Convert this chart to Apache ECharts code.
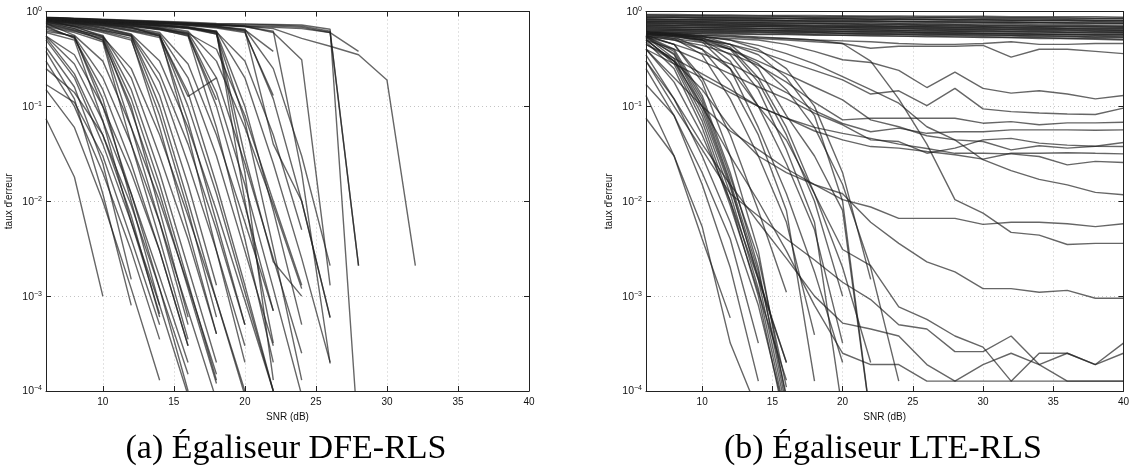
<!DOCTYPE html>
<html>
<head>
<meta charset="utf-8">
<script src="https://cdn.jsdelivr.net/npm/echarts@6/dist/echarts.min.js"></script>
<style>
  html, body { margin: 0; padding: 0; background: #fff; }
  #chart { width: 1132px; height: 469px; }
</style>
</head>
<body>
<div id="chart"></div>
<script>
// SNR grid of every simulated curve (dB)
const snr = [6, 8, 10, 12, 14, 16, 18, 20, 22, 24, 26, 28, 30, 32, 34, 36, 38, 40];
const xTickValues = [10, 15, 20, 25, 30, 35, 40];
const captions = ['(a) Égaliseur DFE-RLS', '(b) Égaliseur LTE-RLS'];
const xName = 'SNR (dB)';
const yName = "taux d'erreur";

// DFE-RLS error rates, one array per channel realisation (a curve stops when no error is counted)
const dfeCurves = [
  [0.074, 0.018, 0.001],
  [0.17, 0.11, 0.03, 0.004, 5e-4],
  [0.15, 0.06, 0.01, 0.0012, 1.3e-4],
  [0.3, 0.1, 0.02, 0.003, 3.5e-4],
  [0.42, 0.16, 0.025, 0.0015],
  [0.5, 0.2, 0.04, 0.006, 8e-4, 9e-5],
  [0.55, 0.28, 0.07, 0.012, 0.0016, 2e-4],
  [0.38, 0.12, 0.012, 8e-4],
  [0.55, 0.35, 0.1, 0.02, 0.003, 3e-4],
  [0.25, 0.14, 0.05, 0.009, 0.0012, 1.5e-4],
  [0.53, 0.22, 0.05, 0.007, 6e-4],
  [0.62, 0.55, 0.1, 0.012, 0.0012, 1e-4],
  [0.7, 0.52, 0.15, 0.025, 0.003, 3e-4],
  [0.6, 0.5, 0.07, 0.006, 6.5e-4],
  [0.65, 0.54, 0.2, 0.04, 0.006, 7e-4, 8e-5],
  [0.75, 0.56, 0.3, 0.06, 0.01, 0.0013, 1.5e-4],
  [0.68, 0.53, 0.12, 0.01, 8e-4],
  [0.72, 0.62, 0.52, 0.09, 0.012, 0.0012, 1.2e-4],
  [0.78, 0.66, 0.5, 0.06, 0.006, 5e-4],
  [0.75, 0.64, 0.55, 0.15, 0.02, 0.002, 2e-4],
  [0.8, 0.7, 0.54, 0.25, 0.05, 0.007, 9e-4, 1e-4],
  [0.74, 0.63, 0.5, 0.1, 0.008, 6e-4],
  [0.82, 0.68, 0.56, 0.2, 0.03, 0.004, 4e-4],
  [0.7, 0.6, 0.48, 0.04, 0.004, 3.5e-4],
  [0.76, 0.66, 0.53, 0.12, 0.015, 0.0014, 1.3e-4],
  [0.8, 0.72, 0.63, 0.55, 0.1, 0.01, 9e-4, 9e-5],
  [0.82, 0.74, 0.66, 0.56, 0.18, 0.025, 0.003, 3e-4],
  [0.78, 0.7, 0.62, 0.52, 0.06, 0.005, 4e-4],
  [0.84, 0.76, 0.68, 0.58, 0.3, 0.06, 0.008, 9e-4, 1e-4],
  [0.8, 0.73, 0.64, 0.55, 0.13, 0.015, 0.0013],
  [0.77, 0.7, 0.6, 0.5, 0.08, 0.008, 6e-4],
  [0.83, 0.75, 0.67, 0.57, 0.22, 0.04, 0.005, 5e-4],
  [0.82, 0.77, 0.72, 0.64, 0.56, 0.1, 0.012, 0.0011, 1e-4],
  [0.84, 0.79, 0.74, 0.67, 0.58, 0.2, 0.03, 0.003, 3e-4],
  [0.8, 0.75, 0.7, 0.62, 0.53, 0.07, 0.006, 5e-4],
  [0.85, 0.8, 0.75, 0.68, 0.6, 0.28, 0.05, 0.006, 7e-4],
  [0.81, 0.76, 0.71, 0.63, 0.55, 0.14, 0.015, 0.0013, 1e-4],
  [0.83, 0.78, 0.73, 0.66, 0.57, 0.05, 0.003, 2e-4],
  [0.8, 0.76, 0.72, 0.68, 0.55, 0.127, 0.2],
  [0.83, 0.8, 0.76, 0.72, 0.66, 0.57, 0.1, 0.009, 7e-4],
  [0.85, 0.81, 0.77, 0.73, 0.67, 0.6, 0.2, 0.025, 0.0025, 2.5e-4],
  [0.82, 0.79, 0.75, 0.71, 0.65, 0.55, 0.06, 0.004, 2e-4],
  [0.86, 0.82, 0.78, 0.74, 0.69, 0.62, 0.3, 0.06, 0.009, 0.0012],
  [0.84, 0.8, 0.76, 0.72, 0.67, 0.58, 0.14, 0.015, 0.0012, 9e-5],
  [0.83, 0.79, 0.75, 0.7, 0.64, 0.56, 0.117],
  [0.82, 0.78, 0.74, 0.7, 0.65, 0.59, 0.4, 0.08, 0.01, 0.0013],
  [0.84, 0.81, 0.78, 0.75, 0.71, 0.67, 0.6, 0.1, 0.008, 5e-4],
  [0.86, 0.83, 0.8, 0.77, 0.73, 0.69, 0.62, 0.2, 0.025, 0.0025, 2e-4],
  [0.83, 0.8, 0.77, 0.74, 0.7, 0.66, 0.58, 0.07, 0.0032, 1.3e-4],
  [0.85, 0.82, 0.79, 0.76, 0.72, 0.68, 0.61, 0.3, 0.05, 0.005],
  [0.84, 0.8, 0.77, 0.74, 0.71, 0.67, 0.6, 0.03, 0.0023, 0.001],
  [0.85, 0.81, 0.78, 0.75, 0.72, 0.68, 0.62, 0.01, 3.2e-4],
  [0.85, 0.83, 0.8, 0.78, 0.75, 0.72, 0.68, 0.62, 0.12, 0.01, 6e-4],
  [0.86, 0.84, 0.82, 0.79, 0.76, 0.73, 0.7, 0.64, 0.38],
  [0.84, 0.82, 0.79, 0.77, 0.74, 0.71, 0.67, 0.6, 0.13],
  [0.85, 0.83, 0.8, 0.78, 0.75, 0.72, 0.69, 0.63, 0.04, 0.01, 5.9e-4],
  [0.86, 0.84, 0.81, 0.79, 0.76, 0.73, 0.7, 0.65, 0.25, 0.03, 0.0021],
  [0.86, 0.84, 0.82, 0.8, 0.78, 0.75, 0.73, 0.7, 0.6, 0.31, 0.0013],
  [0.86, 0.84, 0.81, 0.79, 0.77, 0.75, 0.72, 0.69, 0.62, 0.02, 1.95e-4],
  [0.84, 0.81, 0.78, 0.75, 0.72, 0.68, 0.58, 0.02, 1.3e-4],
  [0.84, 0.82, 0.8, 0.78, 0.76, 0.74, 0.72, 0.7, 0.66, 0.52, 0.43, 0.35, 0.19, 0.0021],
  [0.87, 0.85, 0.83, 0.81, 0.79, 0.77, 0.75, 0.74, 0.73, 0.72, 0.65, 3e-5],
  [0.86, 0.84, 0.82, 0.8, 0.78, 0.76, 0.74, 0.73, 0.72, 0.7, 0.62, 0.0021],
  [0.85, 0.83, 0.81, 0.79, 0.77, 0.75, 0.73, 0.71, 0.7, 0.68, 0.6, 0.0021],
  [0.84, 0.82, 0.8, 0.78, 0.76, 0.74, 0.72, 0.7, 0.68, 0.66, 0.6, 0.38]
];

// LTE-RLS error rates, same SNR grid
const lteCurves = [
  // realisations that never converge
  [0.93, 0.93, 0.92, 0.92, 0.91, 0.91, 0.91, 0.9, 0.9, 0.9, 0.89, 0.89, 0.89, 0.88, 0.88, 0.88, 0.88, 0.87],
  [0.9, 0.9, 0.89, 0.89, 0.88, 0.88, 0.87, 0.87, 0.87, 0.86, 0.86, 0.86, 0.85, 0.85, 0.85, 0.84, 0.84, 0.84],
  [0.88, 0.87, 0.87, 0.86, 0.86, 0.85, 0.85, 0.85, 0.84, 0.84, 0.83, 0.83, 0.83, 0.82, 0.82, 0.82, 0.81, 0.81],
  [0.86, 0.86, 0.85, 0.85, 0.84, 0.84, 0.83, 0.83, 0.82, 0.82, 0.82, 0.81, 0.81, 0.8, 0.8, 0.8, 0.79, 0.79],
  [0.84, 0.83, 0.83, 0.82, 0.82, 0.81, 0.81, 0.8, 0.8, 0.79, 0.79, 0.79, 0.78, 0.78, 0.77, 0.77, 0.77, 0.76],
  [0.82, 0.82, 0.81, 0.81, 0.8, 0.8, 0.79, 0.79, 0.78, 0.78, 0.77, 0.77, 0.76, 0.76, 0.76, 0.75, 0.75, 0.75],
  [0.8, 0.8, 0.79, 0.79, 0.78, 0.78, 0.77, 0.76, 0.76, 0.75, 0.75, 0.74, 0.74, 0.74, 0.73, 0.73, 0.72, 0.72],
  [0.79, 0.78, 0.78, 0.77, 0.76, 0.76, 0.75, 0.75, 0.74, 0.74, 0.73, 0.73, 0.72, 0.72, 0.71, 0.71, 0.71, 0.7],
  [0.77, 0.77, 0.76, 0.75, 0.75, 0.74, 0.74, 0.73, 0.72, 0.72, 0.71, 0.71, 0.7, 0.7, 0.69, 0.69, 0.69, 0.68],
  [0.76, 0.75, 0.74, 0.74, 0.73, 0.72, 0.72, 0.71, 0.71, 0.7, 0.7, 0.69, 0.69, 0.68, 0.68, 0.67, 0.67, 0.67],
  [0.74, 0.74, 0.73, 0.72, 0.72, 0.71, 0.7, 0.7, 0.69, 0.69, 0.68, 0.68, 0.67, 0.67, 0.66, 0.66, 0.65, 0.65],
  [0.73, 0.72, 0.72, 0.71, 0.7, 0.7, 0.69, 0.68, 0.68, 0.67, 0.67, 0.66, 0.66, 0.65, 0.65, 0.64, 0.64, 0.63],
  [0.71, 0.71, 0.7, 0.69, 0.69, 0.68, 0.67, 0.67, 0.66, 0.66, 0.65, 0.65, 0.64, 0.64, 0.63, 0.63, 0.62, 0.62],
  [0.7, 0.69, 0.68, 0.68, 0.67, 0.66, 0.66, 0.65, 0.65, 0.64, 0.64, 0.63, 0.63, 0.62, 0.62, 0.61, 0.61, 0.6],
  [0.68, 0.68, 0.67, 0.66, 0.66, 0.65, 0.64, 0.64, 0.63, 0.63, 0.62, 0.62, 0.61, 0.61, 0.6, 0.6, 0.59, 0.59],
  [0.67, 0.66, 0.65, 0.65, 0.64, 0.63, 0.63, 0.62, 0.62, 0.61, 0.6, 0.6, 0.59, 0.59, 0.58, 0.58, 0.57, 0.57],
  [0.65, 0.65, 0.64, 0.63, 0.63, 0.62, 0.61, 0.61, 0.6, 0.6, 0.59, 0.59, 0.58, 0.58, 0.57, 0.57, 0.56, 0.56],
  [0.64, 0.63, 0.63, 0.62, 0.61, 0.61, 0.6, 0.59, 0.59, 0.58, 0.58, 0.57, 0.57, 0.56, 0.56, 0.55, 0.55, 0.54],
  [0.62, 0.62, 0.61, 0.6, 0.6, 0.59, 0.58, 0.58, 0.57, 0.57, 0.56, 0.56, 0.55, 0.55, 0.54, 0.54, 0.53, 0.53],
  [0.61, 0.6, 0.6, 0.59, 0.58, 0.58, 0.57, 0.56, 0.56, 0.55, 0.55, 0.54, 0.54, 0.53, 0.53, 0.52, 0.52, 0.51],
  [0.92, 0.91, 0.91, 0.9, 0.9, 0.89, 0.88, 0.89, 0.88, 0.88, 0.87, 0.87, 0.87, 0.86, 0.86, 0.86, 0.85, 0.85],
  [0.87, 0.88, 0.86, 0.86, 0.85, 0.85, 0.84, 0.84, 0.83, 0.83, 0.83, 0.82, 0.82, 0.81, 0.81, 0.81, 0.8, 0.8],
  [0.83, 0.82, 0.82, 0.81, 0.81, 0.8, 0.79, 0.79, 0.79, 0.78, 0.78, 0.77, 0.77, 0.76, 0.76, 0.76, 0.75, 0.75],
  [0.78, 0.78, 0.77, 0.76, 0.76, 0.75, 0.75, 0.74, 0.73, 0.73, 0.72, 0.72, 0.71, 0.71, 0.7, 0.7, 0.69, 0.69],
  [0.75, 0.74, 0.74, 0.73, 0.72, 0.72, 0.71, 0.7, 0.7, 0.69, 0.69, 0.68, 0.68, 0.67, 0.67, 0.66, 0.66, 0.66],
  [0.72, 0.71, 0.71, 0.7, 0.7, 0.69, 0.68, 0.68, 0.67, 0.67, 0.66, 0.65, 0.65, 0.64, 0.64, 0.64, 0.63, 0.63],
  [0.69, 0.68, 0.68, 0.67, 0.66, 0.66, 0.65, 0.65, 0.64, 0.63, 0.63, 0.62, 0.62, 0.61, 0.61, 0.6, 0.6, 0.6],
  [0.66, 0.65, 0.65, 0.64, 0.63, 0.63, 0.62, 0.62, 0.61, 0.61, 0.6, 0.59, 0.59, 0.58, 0.58, 0.57, 0.57, 0.57],
  [0.63, 0.63, 0.62, 0.61, 0.61, 0.6, 0.6, 0.59, 0.58, 0.58, 0.57, 0.57, 0.56, 0.56, 0.55, 0.55, 0.54, 0.54],
  [0.6, 0.59, 0.59, 0.58, 0.57, 0.57, 0.56, 0.56, 0.55, 0.55, 0.54, 0.54, 0.53, 0.53, 0.52, 0.52, 0.51, 0.5],
  // realisations that settle on an error floor
  [0.62, 0.6, 0.58, 0.56, 0.54, 0.52, 0.5, 0.49, 0.48, 0.46, 0.45, 0.45, 0.46, 0.48, 0.45, 0.45, 0.46, 0.46],
  [0.6, 0.58, 0.56, 0.54, 0.52, 0.5, 0.48, 0.46, 0.41, 0.43, 0.43, 0.43, 0.44, 0.33, 0.4, 0.4, 0.38, 0.36],
  [0.58, 0.56, 0.54, 0.52, 0.5, 0.45, 0.38, 0.31, 0.29, 0.24, 0.158, 0.23, 0.155, 0.138, 0.146, 0.135, 0.12, 0.13],
  [0.57, 0.54, 0.5, 0.45, 0.38, 0.3, 0.24, 0.19, 0.135, 0.146, 0.102, 0.155, 0.094, 0.088, 0.085, 0.083, 0.082, 0.096],
  [0.55, 0.5, 0.44, 0.36, 0.27, 0.18, 0.11, 0.072, 0.075, 0.075, 0.075, 0.075, 0.0665, 0.069, 0.064, 0.067, 0.067, 0.068],
  [0.54, 0.45, 0.36, 0.28, 0.2, 0.14, 0.09, 0.066, 0.054, 0.059, 0.052, 0.054, 0.054, 0.0566, 0.0566, 0.0566, 0.056, 0.0566],
  [0.5, 0.4, 0.3, 0.22, 0.16, 0.12, 0.085, 0.064, 0.0444, 0.0426, 0.0321, 0.0363, 0.0444, 0.046, 0.041, 0.039, 0.038, 0.0377],
  [0.45, 0.32, 0.22, 0.15, 0.1, 0.075, 0.055, 0.0444, 0.0377, 0.0363, 0.0334, 0.0309, 0.0278, 0.0321, 0.0321, 0.0325, 0.032, 0.0316],
  [0.56, 0.52, 0.47, 0.4, 0.3, 0.22, 0.16, 0.117, 0.072, 0.061, 0.049, 0.0444, 0.0426, 0.0348, 0.0384, 0.0363, 0.038, 0.0416],
  [0.4, 0.28, 0.2, 0.14, 0.1, 0.075, 0.06, 0.052, 0.046, 0.04, 0.036, 0.032, 0.0321, 0.0316, 0.0296, 0.0242, 0.0263, 0.0256],
  [0.58, 0.56, 0.54, 0.5, 0.44, 0.36, 0.28, 0.206, 0.15, 0.108, 0.061, 0.0444, 0.0274, 0.021, 0.017, 0.0149, 0.0124, 0.0117],
  [0.6, 0.58, 0.56, 0.55, 0.53, 0.52, 0.5, 0.46, 0.3, 0.12, 0.04, 0.0104, 0.0075, 0.0047, 0.0044, 0.0035, 0.0036, 0.0036],
  [0.4, 0.2, 0.1, 0.055, 0.035, 0.022, 0.015, 0.0104, 0.0087, 0.0066, 0.0066, 0.0066, 0.0057, 0.006, 0.006, 0.0058, 0.0054, 0.0058],
  [0.45, 0.3, 0.15, 0.06, 0.03, 0.02, 0.015, 0.012, 0.006, 0.0036, 0.0023, 0.0018, 0.0012, 0.0012, 0.0011, 0.00115, 0.00095, 0.00095],
  [0.55, 0.5, 0.4, 0.25, 0.1, 0.044, 0.012, 0.0031, 0.0021, 7.7e-4, 5.7e-4, 3.8e-4, 2.9e-4, 1.27e-4, 2.5e-4, 2.5e-4, 1.9e-4, 3.2e-4],
  [0.3, 0.1, 0.035, 0.012, 0.007, 0.004, 0.0024, 0.0014, 9.2e-4, 5e-4, 4.5e-4, 2.6e-4, 2.6e-4, 3.8e-4, 1.9e-4, 1.27e-4, 1.27e-4, 1.27e-4],
  [0.35, 0.12, 0.04, 0.015, 0.006, 0.0025, 0.001, 5.2e-4, 4.5e-4, 3.8e-4, 1.9e-4, 1.27e-4, 1.9e-4, 2.5e-4, 1.9e-4, 2.5e-4, 1.9e-4, 2.5e-4],
  [0.5, 0.3, 0.1, 0.03, 0.01, 0.003, 8e-4, 2.5e-4, 1.9e-4, 1.9e-4, 1.27e-4, 1.27e-4, 1.27e-4, 1.27e-4, 1.27e-4, 1.27e-4, 1.27e-4, 1.27e-4],
  // realisations that converge
  [0.075, 0.03, 0.0054, 3.2e-4, 6e-5],
  [0.13, 0.03, 0.004, 5.9e-4],
  [0.25, 0.08, 0.015, 0.002, 1.27e-4],
  [0.3, 0.12, 0.03, 0.006, 8e-4, 5e-5],
  [0.4, 0.18, 0.05, 0.01, 0.0015, 2e-4],
  [0.17, 0.08, 0.02, 0.004, 3.2e-4],
  [0.5, 0.3, 0.08, 0.012, 0.0012, 5e-5],
  [0.55, 0.35, 0.1, 0.015, 0.0015, 6e-5],
  [0.52, 0.28, 0.07, 0.01, 0.001, 4e-5],
  [0.55, 0.4, 0.13, 0.02, 0.002, 7e-5],
  [0.48, 0.25, 0.06, 0.009, 0.0011, 1.3e-4],
  [0.56, 0.45, 0.18, 0.03, 0.003, 8e-5],
  [0.54, 0.32, 0.09, 0.014, 0.0016, 2e-4],
  [0.55, 0.38, 0.12, 0.018, 0.0025, 1.1e-4],
  [0.53, 0.36, 0.11, 0.016, 0.0018, 9e-5],
  [0.56, 0.45, 0.2, 0.05, 0.008, 0.0011],
  [0.57, 0.52, 0.35, 0.12, 0.03, 0.006, 3.9e-4],
  [0.58, 0.54, 0.4, 0.18, 0.05, 0.008, 1.27e-4],
  [0.6, 0.56, 0.5, 0.3, 0.1, 0.025, 0.005, 3.2e-4],
  [0.6, 0.57, 0.52, 0.4, 0.18, 0.05, 0.01, 0.001],
  [0.6, 0.58, 0.55, 0.45, 0.25, 0.08, 0.03, 0.008, 5e-5],
  [0.59, 0.56, 0.5, 0.35, 0.15, 0.035, 0.006, 6e-5],
  [0.58, 0.55, 0.48, 0.25, 0.06, 0.012, 0.0018, 2e-4],
  [0.6, 0.57, 0.53, 0.42, 0.2, 0.06, 0.012, 0.002, 2e-4],
  [0.6, 0.58, 0.55, 0.5, 0.4, 0.25, 0.1, 0.02, 0.0015],
  [0.58, 0.55, 0.5, 0.4, 0.28, 0.15, 0.06, 0.015, 0.002, 1.27e-4],
  [0.6, 0.57, 0.52, 0.45, 0.35, 0.2, 0.08, 0.01, 5e-5]
];

const lineColor = 'rgba(30,30,30,0.68)';
const axisColor = '#222';
const gridColor = '#c4c4c4';
const tickFont = { fontFamily: 'Liberation Sans, Arial, sans-serif', fontSize: 10, color: '#111' };
const captionFont = { fontFamily: 'Liberation Serif, serif', fontSize: 34, fontWeight: 'normal', color: '#000' };

const grids = [
  { left: 46, top: 11.5, width: 483, height: 379.5 },
  { left: 646, top: 11.5, width: 481, height: 379.5 }
];

const supers = { '0': '0', '-1': '−1', '-2': '−2', '-3': '−3', '-4': '−4' };

function xAxes(gi) {
  const common = {
    type: 'value', gridIndex: gi, min: 6, max: 40,
    axisLine: { show: true, onZero: false, lineStyle: { color: axisColor, width: 1 } },
    axisTick: { show: true, inside: true, length: 5, customValues: xTickValues, lineStyle: { color: axisColor } }
  };
  return [
    Object.assign({}, common, {
      position: 'bottom',
      name: xName, nameLocation: 'middle', nameGap: 19,
      nameTextStyle: tickFont,
      axisLabel: Object.assign({ show: true, margin: 6, customValues: xTickValues }, tickFont),
      splitLine: { show: true, lineStyle: { color: gridColor, type: [1, 3], width: 1 } }
    }),
    Object.assign({}, common, {
      position: 'top',
      axisLabel: { show: false },
      splitLine: { show: false }
    })
  ];
}

function yAxes(gi) {
  const common = {
    type: 'log', logBase: 10, gridIndex: gi, min: 1e-4, max: 1,
    axisLine: { show: true, onZero: false, lineStyle: { color: axisColor, width: 1 } },
    axisTick: { show: true, inside: true, length: 5, lineStyle: { color: axisColor } },
    minorTick: { show: false }
  };
  return [
    Object.assign({}, common, {
      position: 'left',
      name: yName, nameLocation: 'middle', nameGap: 32, nameRotate: 90,
      nameTextStyle: tickFont,
      axisLabel: {
        show: true, margin: 4,
        formatter: function (v) {
          const e = String(Math.round(Math.log10(v)));
          return '{b|10}{s|' + supers[e] + '}';
        },
        rich: {
          b: { fontFamily: tickFont.fontFamily, fontSize: 10.5, color: '#111', lineHeight: 12, verticalAlign: 'bottom' },
          s: { fontFamily: tickFont.fontFamily, fontSize: 7, color: '#111', lineHeight: 7, verticalAlign: 'top' }
        }
      },
      splitLine: { show: true, lineStyle: { color: gridColor, type: [1, 3], width: 1 } }
    }),
    Object.assign({}, common, {
      position: 'right',
      axisLabel: { show: false },
      splitLine: { show: false }
    })
  ];
}

function curveSeries(curves, axisIdx) {
  return curves.map(function (c) {
    const pts = [];
    c.forEach(function (v, i) { if (v != null) pts.push([snr[i], v]); });
    return {
      type: 'line', xAxisIndex: axisIdx, yAxisIndex: axisIdx,
      data: pts, symbol: 'none', showSymbol: false, silent: true, clip: true,
      lineStyle: { color: lineColor, width: 1.4 }
    };
  });
}

const chart = echarts.init(document.getElementById('chart'), null, { renderer: 'canvas' });
chart.setOption({
  animation: false,
  backgroundColor: '#fff',
  grid: grids,
  xAxis: xAxes(0).concat(xAxes(1)),
  yAxis: yAxes(0).concat(yAxes(1)),
  title: [
    { text: captions[0], left: 281, top: 427, textAlign: 'center', textStyle: captionFont },
    { text: captions[1], left: 878, top: 427, textAlign: 'center', textStyle: captionFont }
  ],
  series: curveSeries(dfeCurves, 0).concat(curveSeries(lteCurves, 2))
});
</script>
</body>
</html>
